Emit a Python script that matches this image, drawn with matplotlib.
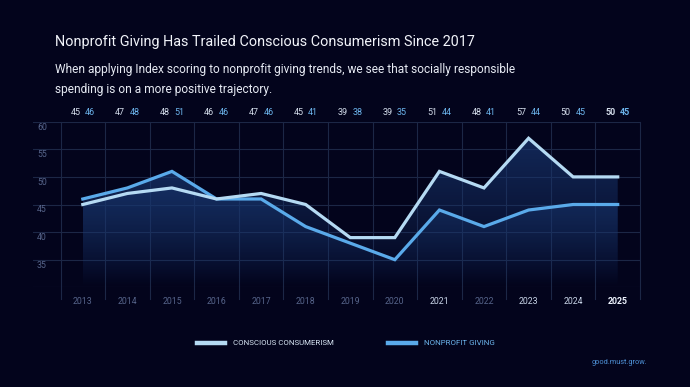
import numpy as np
import matplotlib
matplotlib.use("Agg")
import matplotlib.pyplot as plt
from matplotlib.colors import LinearSegmentedColormap
from matplotlib.patches import Polygon

plt.rcParams["font.family"] = ["Roboto", "DejaVu Sans"]

# data
years = ["2013", "2014", "2015", "2016", "2017", "2018", "2019",
         "2020", "2021", "2022", "2023", "2024", "2025"]
conscious = [45, 47, 48, 46, 47, 45, 39, 39, 51, 48, 57, 50, 50]
nonprofit = [46, 48, 51, 46, 46, 41, 38, 35, 44, 41, 44, 45, 45]
y_ticks = [35, 40, 45, 50, 55, 60]

BG = "#03041c"
GRID = "#1c2746"
C_LIGHT = "#b5daf3"
C_BLUE = "#5aaaea"
DIM = "#56648a"
BRIGHT = "#c9d5e8"
year_colors = [DIM] * 8 + [BRIGHT, DIM, BRIGHT, BRIGHT, "#eef4ff"]

W, H = 690, 387
fig = plt.figure(figsize=(W / 100, H / 100), dpi=100, facecolor=BG)
left, right, top, bottom = 33, 640, 121.7, 287.3
ax = fig.add_axes([left / W, 1 - bottom / H, (right - left) / W, (bottom - top) / H])
ax.set_facecolor(BG)
x = np.arange(len(years))
ax.set_xlim(-1.117, 12.5)
ax.set_ylim(30, 60)
for s in ax.spines.values():
    s.set_visible(False)
ax.set_xticks([])
ax.set_yticks([])

# grid
for yv in range(30, 61, 5):
    ax.axhline(yv, color=GRID, lw=0.8, zorder=1)
for xv in np.arange(-0.5, 12.6, 1):
    ax.plot([xv, xv], [27.9, 60], color=GRID, lw=0.8, zorder=1, clip_on=False)

# gradient fills under each line
cmap = LinearSegmentedColormap.from_list(
    "fade", [(0.1, 0.22, 0.45, 0.0), (0.1, 0.22, 0.45, 0.7)])
grad = np.linspace(0, 1, 256).reshape(-1, 1)
for series in (conscious, nonprofit):
    top_y = max(series)
    im = ax.imshow(grad, cmap=cmap, origin="lower", aspect="auto",
                   extent=[x[0], x[-1], 30, top_y], zorder=2)
    verts = [(x[0], 30)] + list(zip(x, series)) + [(x[-1], 30)]
    poly = Polygon(verts, closed=True, facecolor="none", edgecolor="none")
    ax.add_patch(poly)
    im.set_clip_path(poly)

ax.plot(x, conscious, color=C_LIGHT, lw=2.3, zorder=4, solid_joinstyle="miter",
        label="CONSCIOUS CONSUMERISM")
ax.plot(x, nonprofit, color=C_BLUE, lw=2.3, zorder=3, solid_joinstyle="miter",
        label="NONPROFIT GIVING")

# y tick labels just below their gridlines
for yv in y_ticks:
    py = top + (60 - yv) * (bottom - top) / 30 + 5.5
    fig.text(37 / W, 1 - py / H, str(yv), fontsize=6.3, color=DIM,
             va="center", ha="left")

# year labels
for i, (yr, c) in enumerate(zip(years, year_colors)):
    ax.text(i, 27.4, yr, ha="center", va="center", fontsize=6.3, color=c,
            fontweight="bold" if yr == "2025" else "normal", clip_on=False)

# value labels above the chart
for i, (a, b) in enumerate(zip(conscious, nonprofit)):
    bold = "bold" if i == len(years) - 1 else "normal"
    ax.text(i - 0.05, 61.6, str(a), ha="right", va="center", fontsize=6.5,
            color="#d3dcea", fontweight=bold, clip_on=False)
    ax.text(i + 0.05, 61.6, str(b), ha="left", va="center", fontsize=6.5,
            color="#6cb4ec", fontweight=bold, clip_on=False)

# titles
fig.text(55 / W, 1 - 42 / H, "Nonprofit Giving Has Trailed Conscious Consumerism Since 2017",
         fontsize=10.4, color="#f2f4fa", va="center", ha="left")
fig.text(55 / W, 1 - 70 / H,
         "When applying Index scoring to nonprofit giving trends, we see that socially responsible",
         fontsize=8.6, color="#e6eaf3", va="center", ha="left")
fig.text(55 / W, 1 - 90 / H, "spending is on a more positive trajectory.",
         fontsize=8.6, color="#e6eaf3", va="center", ha="left")

# legend
leg = fig.legend(loc="center", bbox_to_anchor=(346 / W, 1 - 343 / H), ncol=2,
                 frameon=False, fontsize=5.7, handlelength=3.6, handletextpad=1.0,
                 columnspacing=6.8)
for line in leg.get_lines():
    line.set_linewidth(3.2)
for txt, c in zip(leg.get_texts(), ["#d8e6f4", "#6cb4ec"]):
    txt.set_color(c)

# logo
fig.text(592 / W, 1 - 362 / H, "good.must.grow.", fontsize=5.3, color="#4f92d8",
         va="center", ha="left")

fig.savefig("out.png", dpi=100, facecolor=BG)
